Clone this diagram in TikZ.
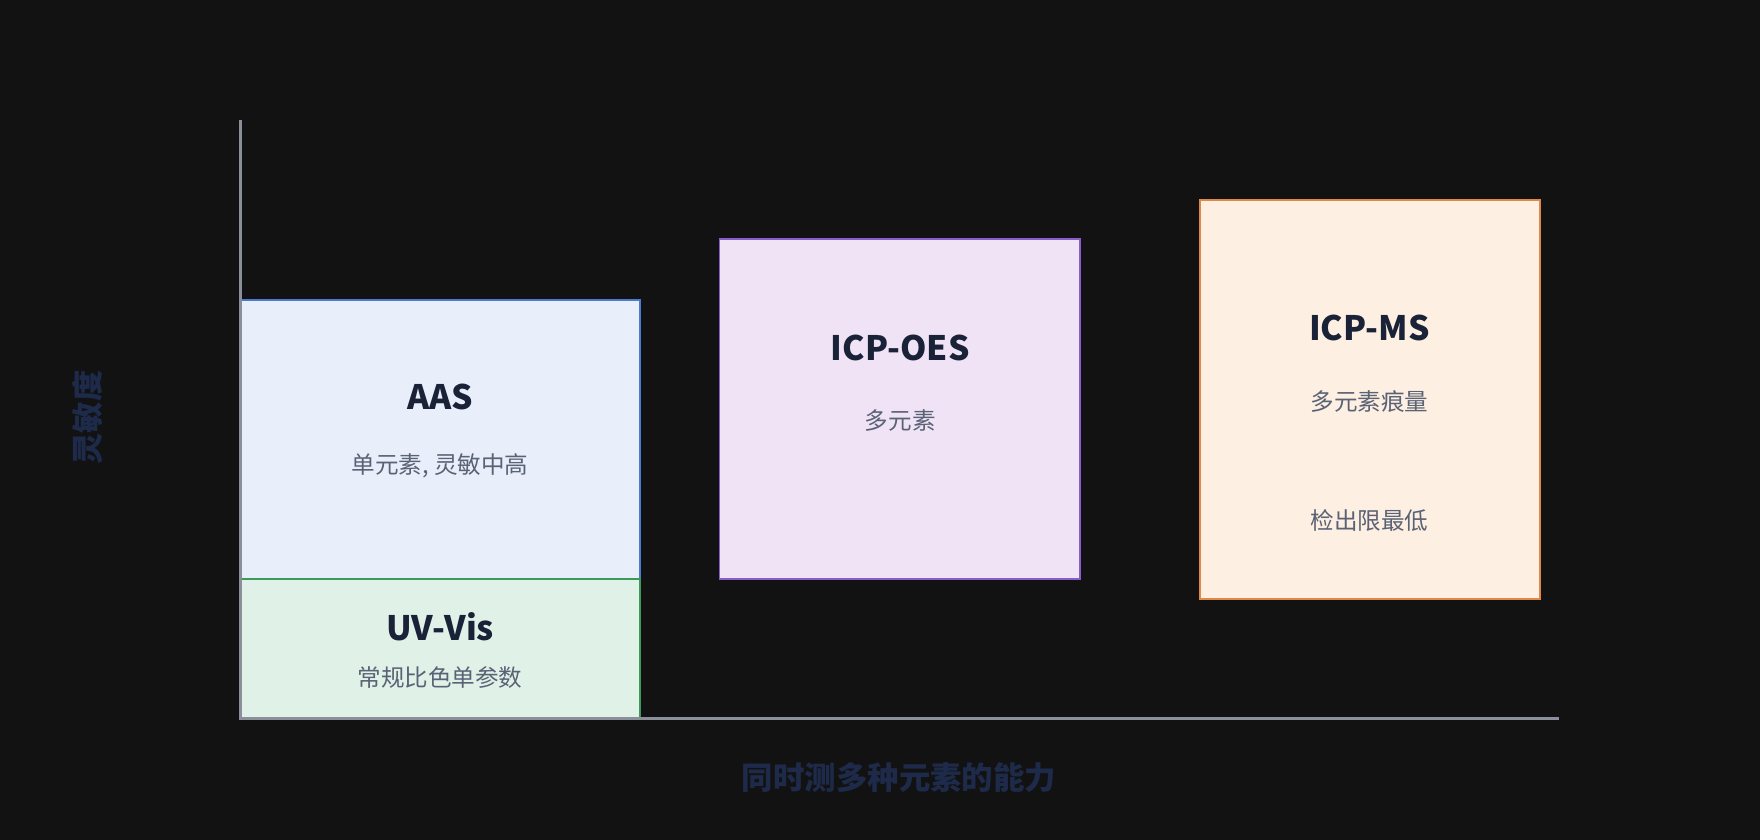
\documentclass[tikz,border=0pt]{standalone}
\usepackage{fontspec}
\setmainfont{Noto Sans CJK SC}
\definecolor{bg}{HTML}{121212}
\definecolor{axc}{HTML}{8A8F99}
\definecolor{axlc}{HTML}{1E2A4A}
\definecolor{titlec}{HTML}{1A2238}
\definecolor{subc}{HTML}{5A6275}
\definecolor{aasf}{HTML}{E8EEFA}
\definecolor{aasd}{HTML}{4A7BD0}
\definecolor{uvf}{HTML}{E0F1E8}
\definecolor{uvd}{HTML}{3A9A5A}
\definecolor{oesf}{HTML}{F0E3F6}
\definecolor{oesd}{HTML}{8A5CC8}
\definecolor{msf}{HTML}{FDEFE1}
\definecolor{msd}{HTML}{E0874A}
\begin{document}
\begin{tikzpicture}[x=0.5pt,y=-0.5pt,
  box/.style={draw,line width=0.8pt},
  ttl/.style={text=titlec,font=\fontsize{15}{18}\selectfont\bfseries},
  sub/.style={text=subc,font=\fontsize{10.5}{13}\selectfont},
  axl/.style={text=axlc,font=\fontsize{14}{17}\selectfont\bfseries}]
\fill[bg] (0,0) rectangle (1568,748);
\useasboundingbox (0,0) rectangle (1568,748);
\draw[box,fill=aasf,draw=aasd] (214,267) rectangle (570,516);
\draw[box,fill=uvf,draw=uvd] (214,516) rectangle (570,640);
\draw[box,fill=oesf,draw=oesd] (641,213) rectangle (962,516);
\draw[box,fill=msf,draw=msd] (1069,178) rectangle (1372,534);
\coordinate (o) at (214,640);
\coordinate (ytop) at (214,107);
\coordinate (xend) at (1389,640);
\draw[axc,line width=1.2pt] (ytop) -- (o) -- (xend);
\node[ttl] (aas) at (392,354) {AAS};
\node[sub] (aass) at (392,415) {单元素, 灵敏中高};
\node[ttl] (oes) at (802,310) {ICP-OES};
\node[sub] (oess) at (802,375) {多元素};
\node[ttl] (ms) at (1220,292) {ICP-MS};
\node[sub] (mss) at (1220,358) {多元素痕量};
\node[sub] (mss2) at (1220,464) {检出限最低};
\node[ttl] (uv) at (392,558) {UV-Vis};
\node[sub] (uvs) at (392,604) {常规比色单参数};
\node[axl,rotate=90] (yl) at (78,372) {灵敏度};
\node[axl] (xl) at (801,693) {同时测多种元素的能力};
\end{tikzpicture}
\end{document}
